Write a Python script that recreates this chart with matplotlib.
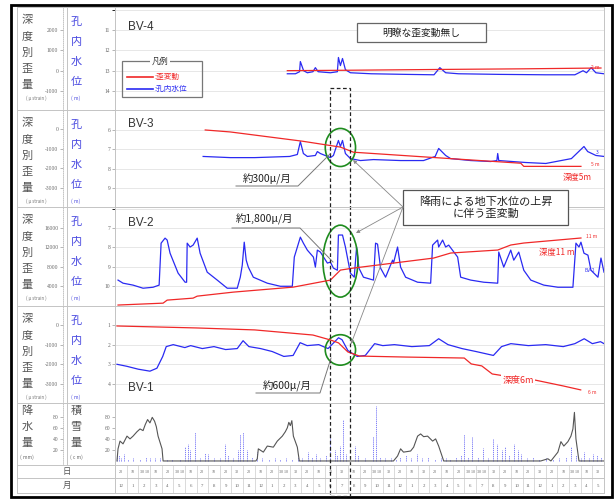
import numpy as np
from matplotlib import pyplot as plt
from matplotlib.patches import Ellipse, Rectangle

plt.rcParams['font.family'] = ['Noto Sans CJK JP', 'DejaVu Sans']
plt.rcParams['axes.unicode_minus'] = False

# time axis: months counted from the 1st of the first December
MONTH_LABELS = ['12', '1', '2', '3', '4', '5', '6', '7', '8', '9', '10', '11',
                '12', '1', '2', '3', '4', '5', '6', '7', '8', '9', '10', '11',
                '12', '1', '2', '3', '4', '5', '6', '7', '8', '9', '10', '11',
                '12', '1', '2', '3', '4', '5']
DAY_LABELS = ['20', '10', '30 10', '10', '20', '30 10', '10', '20', '10', '20', '30', '20',
              '10', '20', '30 10', '30', '20', '10', '20', '30', '10', '20', '30 10', '30',
              '20', '10', '30', '20', '10', '20', '30 10', '30 10', '30', '20', '10', '20',
              '30', '20', '10', '30 10', '10', '30']

# BV-4 (water level m / strain micro-strain)
T_BV4_WL = [14.80, 15.5, 15.85, 15.92, 16.2, 16.52, 17.0, 17.21, 17.45, 18.5,
            19.1, 19.19, 19.36, 19.54, 19.79, 20.22, 22.0, 25.0, 27.4, 27.9,
            28.4, 29.5, 33.0, 37.0, 39.5, 40.2, 40.5, 40.9, 41.3, 42.0]
WL_BV4 = [13.15, 13.15, 13.05, 12.55, 13.0, 13.1, 13.05, 12.85, 13.05, 13.1,
          13.05, 12.35, 12.75, 12.4, 12.95, 13.1, 13.15, 13.18, 13.2, 12.85,
          13.1, 13.15, 13.18, 13.2, 13.2, 13.0, 13.1, 12.85, 13.1, 13.15]
T_BV4_ST = [14.80, 20.0, 28.0, 35.0, 41.74]
ST_BV4 = [0, 20, 60, 90, 130]

# BV-3
T_BV3_WL = [7.57, 9.90, 12.0, 15.0, 15.66, 15.92, 16.18, 16.52, 17.21, 17.38,
            17.64, 18.50, 18.76, 19.19, 19.36, 19.54, 19.79, 20.22, 21.08, 22.20,
            24.53, 26.5, 27.5, 27.8, 28.4, 28.83, 30.55, 32.27, 32.8, 32.87,
            32.96, 35.28, 37.0, 39.2, 40.28, 40.6, 41.31, 42.0]
WL_BV3 = [7.38, 7.44, 7.44, 7.38, 7.28, 6.62, 7.23, 7.38, 7.33, 7.13,
          7.23, 7.44, 7.33, 6.56, 6.87, 6.56, 7.23, 7.49, 7.59, 7.54,
          7.59, 7.59, 7.38, 6.97, 7.33, 7.49, 7.59, 7.64, 7.59, 7.23,
          7.59, 7.69, 7.74, 7.49, 6.87, 7.13, 7.33, 7.38]
T_BV3_ST = [7.75, 9.90, 16.09, 19.36, 20.48, 27.11, 34.85, 35.11, 40.02]
ST_BV3 = [-50, -150, -620, -920, -1180, -1440, -1740, -1900, -1900]

# BV-2
T_BV2_WL = [0.26, 0.69, 1.55, 2.41, 3.27, 3.79, 3.96, 4.30, 4.48, 4.73,
            5.42, 6.02, 6.15, 6.20, 6.45, 6.71, 7.06, 7.31, 7.92, 8.78,
            9.64, 10.50, 10.76, 10.93, 11.10, 11.27, 11.45, 11.88, 13.08, 14.20,
            15.23, 15.40, 15.92, 16.18, 16.52, 17.04, 17.21, 17.38, 17.64, 18.24,
            18.50, 18.76, 19.10, 19.19, 19.54, 19.79, 20.22, 20.55, 20.75, 20.95,
            21.34, 22.20, 22.38, 22.55, 22.81, 23.24, 23.84, 23.92, 24.27, 24.53,
            24.96, 25.99, 27.11, 27.28, 27.71, 27.80, 28.14, 28.40, 28.66, 29.43,
            29.69, 30.55, 31.67, 32.87, 32.96, 33.39, 33.99, 34.25, 34.68, 35.11,
            35.71, 36.83, 38.04, 39.33, 39.59, 39.85, 40.02, 40.28, 40.62, 40.88,
            41.48, 41.74, 42.0]
WL_BV2 = [9.69, 9.85, 9.95, 10.11, 10.06, 9.95, 7.78, 7.52, 7.62, 8.30,
          9.33, 9.80, 9.80, 7.78, 7.98, 7.88, 7.52, 8.30, 9.28, 9.69,
          10.11, 10.11, 9.54, 8.92, 7.73, 8.66, 9.02, 9.54, 9.85, 10.01,
          10.01, 8.50, 7.47, 7.78, 8.14, 8.50, 9.02, 8.14, 8.24, 8.81,
          8.76, 9.07, 9.18, 7.36, 7.36, 7.98, 9.33, 9.54, 7.98, 9.07,
          9.54, 9.69, 7.78, 7.83, 9.07, 9.54, 8.66, 8.81, 7.98, 9.02,
          9.54, 9.80, 9.85, 7.88, 7.62, 7.98, 7.62, 7.98, 7.88, 8.50,
          9.54, 9.69, 9.80, 9.85, 8.24, 9.02, 8.14, 8.66, 8.24, 9.18,
          9.69, 9.95, 10.06, 10.06, 7.78, 7.98, 7.73, 8.30, 8.40, 9.18,
          9.54, 8.55, 9.28]
T_BV2_ST = [0.26, 4.13, 4.48, 6.71, 7.06, 10.15, 15.32, 18.50, 19.36, 20.48,
            27.37, 28.83, 32.87, 33.99, 35.11, 40.02]
ST_BV2 = [60, 450, 1080, 1490, 1900, 2730, 3770, 5220, 7290, 7710,
          9780, 10820, 11440, 12480, 12890, 13930]

# BV-1
T_BV1_WL = [0.17, 1.0, 2.0, 3.0, 3.6, 4.1, 4.4, 5.0, 6.0, 6.5,
            7.5, 8.5, 9.5, 10.5, 11.0, 11.5, 12.5, 13.5, 14.5, 15.3,
            15.9, 16.5, 17.5, 18.3, 19.2, 19.5, 20.0, 20.8, 21.5, 22.3,
            23.0, 24.0, 25.5, 27.0, 27.8, 28.6, 29.8, 31.0, 32.5, 33.2,
            34.0, 35.5, 37.0, 38.5, 39.5, 40.3, 41.0, 41.7, 42.0]
WL_BV1 = [3.0, 3.1, 3.25, 3.35, 3.2, 2.6, 2.1, 2.0, 2.15, 2.05,
          2.2, 2.1, 2.25, 2.2, 1.8, 2.1, 2.2, 2.35, 2.6, 2.55,
          1.9, 2.05, 2.0, 2.2, 1.65, 1.75, 2.3, 2.6, 2.55, 1.95,
          2.05, 2.0, 2.1, 2.05, 1.7, 2.0, 2.2, 2.35, 2.55, 2.1,
          1.95, 2.05, 2.0, 2.1, 1.95, 1.7, 1.95, 1.85, 1.95]
T_BV1_ST = [0.17, 7.0, 12.0, 17.0, 18.5, 19.2, 20.0, 21.0, 25.0, 30.0,
            30.6, 31.5, 32.4, 34.0, 36.0, 38.5, 40.0]
ST_BV1 = [-50, -150, -250, -510, -760, -910, -1370, -1580, -1630, -1680,
          -1980, -2080, -2490, -2640, -2790, -3100, -3300]

# precipitation (mm) and snow depth (cm)
T_RAIN = [0.17, 0.35, 0.5, 0.77, 1.1, 1.55, 2.15, 2.67, 3.0, 3.44,
          3.87, 4.5, 4.9, 5.6, 6.0, 6.3, 6.45, 6.9, 7.3, 7.75,
          8.0, 8.5, 9.0, 9.47, 9.7, 10.15, 10.6, 10.76, 11.0, 11.3,
          11.8, 12.2, 12.65, 13.2, 13.7, 14.2, 14.7, 15.2, 15.7, 16.1,
          16.6, 16.95, 17.3, 17.65, 18.1, 18.5, 18.9, 19.1, 19.36, 19.54,
          19.8, 20.65, 20.9, 21.5, 22.2, 22.4, 22.8, 23.2, 23.7, 24.1,
          24.5, 24.96, 25.4, 25.9, 26.4, 26.9, 27.5, 28.0, 28.4, 28.8,
          29.3, 29.7, 29.95, 30.3, 30.7, 31.2, 31.6, 32.0, 32.45, 32.8,
          33.2, 33.5, 33.8, 34.25, 34.6, 34.85, 35.4, 35.9, 36.4, 37.0,
          37.6, 38.1, 38.7, 39.16, 39.6, 40.0, 40.3, 40.7, 41.05, 41.4, 41.7]
RAIN_MM = [15, 10, 6, 12, 4, 5, 4, 8, 5, 6,
           5, 3, 4, 3, 25, 31, 20, 52, 5, 14,
           12, 5, 6, 30, 10, 6, 20, 48, 52, 20,
           8, 16, 5, 4, 6, 3, 5, 4, 8, 6,
           16, 8, 13, 6, 10, 46, 20, 10, 28, 75,
           12, 28, 10, 5, 46, 100, 8, 5, 6, 4,
           8, 10, 6, 12, 5, 7, 4, 6, 5, 4,
           8, 10, 48, 7, 44, 8, 24, 6, 40, 30,
           19, 25, 10, 31, 19, 12, 5, 8, 4, 6,
           4, 5, 8, 25, 10, 5, 16, 6, 13, 10, 8]
T_SNOW = [0.17, 0.26, 0.43, 0.69, 1.03, 1.29, 1.55, 1.89, 2.15, 2.41,
          2.6, 2.8, 3.0, 3.2, 3.4, 3.55, 3.70, 4.04, 4.13,
          12.1, 12.22, 12.31, 12.74, 13.08, 13.6, 13.94, 14.37, 14.63, 14.8,
          14.93, 15.06, 15.19, 15.32, 15.66, 15.83,
          23.8, 23.92, 24.27, 24.53, 24.78, 25.39, 25.65, 25.99, 26.25, 26.51,
          26.85, 27.28, 27.54, 27.80, 28.23,
          36.57, 37.18, 37.44, 38.04, 38.30, 38.55, 38.90, 39.16, 39.33, 39.46,
          39.59, 39.85, 42.0]
SNOW_CM = [0, 22, 36, 31, 45, 40, 45, 53, 58, 55,
           66, 75, 69, 79, 72, 62, 45, 22, 0,
           0, 4, 22, 16, 27, 25, 36, 45, 53, 60,
           70, 64, 73, 45, 25, 0,
           0, 0, 9, 22, 16, 18, 25, 45, 49, 44,
           45, 36, 40, 27, 0,
           0, 4, 0, 16, 35, 27, 35, 45, 58, 88,
           40, 0, 0]

RED = '#f02828'
BLUE = '#2a2af2'
GREEN = '#1e8c1e'
TICK_FONT = 'Liberation Serif'

W, H = 615, 499
X0, X1 = 115, 604
ROWS = [7, 110, 207, 306, 403, 465, 478, 493]

fig = plt.figure(figsize=(W / 100, H / 100), dpi=100)


def box(x0, y0, x1, y1):
    return fig.add_axes([x0 / W, 1 - y1 / H, (x1 - x0) / W, (y1 - y0) / H])


def tidy(ax, spine):
    for s in ('top', 'right', 'bottom'):
        ax.spines[s].set_visible(False)
    ax.spines['left'].set_visible(True)
    ax.spines['left'].set(color='#bbbbbb', lw=0.6, ls=(0, (1, 1.5)))
    ax.yaxis.set_ticks_position('left')
    ax.tick_params(axis='y', length=2, width=0.5, color='#999999',
                   labelsize=4, labelcolor='#666666', pad=1.5)
    ax.set_xticks([])
    if spine is not None:
        ax.spines['left'].set_position(('axes', spine))
    for lab in ax.get_yticklabels():
        lab.set_family(TICK_FONT)


def panel(y0, y1, wl_lim, wl_ticks, st_lim, st_ticks):
    ax = box(X0, y0, X1, y1)
    ax.set_xlim(0, 42)
    ax.set_ylim(wl_lim)
    ax.set_yticks(wl_ticks)
    ax.grid(axis='y', color='#e3e3e3', lw=0.6)
    ax.patch.set_visible(False)
    tidy(ax, None)
    st = ax.twinx()
    st.set_ylim(st_lim)
    st.set_yticks(st_ticks)
    tidy(st, (63 - X0) / (X1 - X0))
    return ax, st


# BV-4
ax4, st4 = panel(ROWS[0], ROWS[1], (14.93, 9.87), [11, 12, 13, 14],
                 (-1935, 3131), [-1000, 0, 1000, 2000])
ax4.set_yticks([10], minor=True)
ax4.yaxis.grid(True, which='minor', color='#e3e3e3', lw=0.6)
ax4.plot(T_BV4_WL, WL_BV4, color=BLUE, lw=0.9)
st4.plot(T_BV4_ST, ST_BV4, color=RED, lw=0.9)

# BV-3
ax3, st3 = panel(ROWS[1], ROWS[2], (9.97, 5.03), [6, 7, 8, 9],
                 (-3966, 966), [-3000, -2000, -1000, 0])
ax3.set_yticks([5], minor=True)
ax3.yaxis.grid(True, which='minor', color='#e3e3e3', lw=0.6)
ax3.plot(T_BV3_WL, WL_BV3, color=BLUE, lw=0.9)
st3.plot(T_BV3_ST, ST_BV3, color=RED, lw=0.9)
ax3.add_patch(Ellipse((19.36, 6.92), 2.6, 1.95, fill=False, ec=GREEN, lw=1.2, zorder=5))

# BV-2
ax2, st2 = panel(ROWS[2], ROWS[3], (11.03, 5.91), [7, 8, 9, 10],
                 (-139, 20345), [4000, 8000, 12000, 16000])
ax2.set_yticks([6], minor=True)
ax2.yaxis.grid(True, which='minor', color='#e3e3e3', lw=0.6)
ax2.plot(T_BV2_WL, WL_BV2, color=BLUE, lw=0.9)
st2.plot(T_BV2_ST, ST_BV2, color=RED, lw=0.9)
ax2.add_patch(Ellipse((19.36, 8.71), 3.0, 3.72, fill=False, ec=GREEN, lw=1.2, zorder=5))

# BV-1
ax1, st1 = panel(ROWS[3], ROWS[4], (4.97, 0.034), [1, 2, 3, 4],
                 (-3966, 966), [-3000, -2000, -1000, 0])
ax1.plot(T_BV1_WL, WL_BV1, color=BLUE, lw=0.9)
st1.plot(T_BV1_ST, ST_BV1, color=RED, lw=0.9)
ax1.add_patch(Ellipse((19.36, 2.27), 2.6, 1.55, fill=False, ec=GREEN, lw=1.2, zorder=5))

# precipitation / snow depth
axp = box(X0, ROWS[4], X1, ROWS[5])
axp.set_xlim(0, 42)
axp.set_ylim(-7.3, 105)
axp.set_yticks([20, 40, 60, 80])
axp.patch.set_visible(False)
tidy(axp, None)
axp.vlines(T_RAIN, 0, RAIN_MM, colors='#6c6cf5', lw=0.6, linestyles=(0, (1.5, 1)))
sn = axp.twinx()
sn.set_ylim(-7.3, 105)
sn.set_yticks([20, 40, 60, 80])
tidy(sn, (63 - X0) / (X1 - X0))
axp.plot(T_SNOW, SNOW_CM, color='#555555', lw=0.8)

# day / month rows
axd = box(X0, ROWS[5], X1, ROWS[7])
axd.set_xlim(0, 42)
axd.set_ylim(2, 0)
axd.axis('off')
axd.vlines(np.arange(43), 0, 2, colors='#cccccc', lw=0.5)
for i, (m, d) in enumerate(zip(MONTH_LABELS, DAY_LABELS)):
    axd.text(i + 0.5, 1.5, m, ha='center', va='center', fontsize=3.5,
             color='#666666', family=TICK_FONT)
    axd.text(i + 0.5, 0.5, d, ha='center', va='center', fontsize=3,
             color='#666666', family=TICK_FONT)

# table frame, column titles and notes
ov = fig.add_axes([0, 0, 1, 1])
ov.set_xlim(0, W)
ov.set_ylim(H, 0)
ov.axis('off')

ov.add_patch(Rectangle((11, 5), 601, 492, fill=False, ec='black', lw=2))
for y in ROWS:
    ov.plot([17, X1], [y, y], color='#c4c4c4', lw=0.7)
ov.plot([17, 17], [ROWS[0], ROWS[-1]], color='#c4c4c4', lw=0.7)
ov.plot([X1, X1], [ROWS[0], ROWS[-1]], color='#c4c4c4', lw=0.7)
ov.plot([67, 67], [ROWS[0], ROWS[5]], color='#c4c4c4', lw=0.7)
ov.plot([X0, X0], [ROWS[0], ROWS[-1]], color='#c4c4c4', lw=0.7)

for y0 in ROWS[:4]:
    for k, ch in enumerate('深度別歪量'):
        ov.text(27, y0 + 13 + k * 16.3, ch, ha='center', va='center',
                fontsize=8, color='#555555')
    ov.text(36, y0 + 91, '( μ strain )', ha='center', va='center',
            fontsize=3.2, color='#777777')
    for k, ch in enumerate('孔内水位'):
        ov.text(76, y0 + 15 + k * 20, ch, ha='center', va='center',
                fontsize=8, color='#4848e0')
    ov.text(76, y0 + 91, '( m)', ha='center', va='center', fontsize=3.5,
            color='#4848e0')

for k, ch in enumerate('降水量'):
    ov.text(27, 411 + k * 16, ch, ha='center', va='center', fontsize=8, color='#555555')
for k, ch in enumerate('積雪量'):
    ov.text(76, 411 + k * 16, ch, ha='center', va='center', fontsize=8, color='#555555')
ov.text(27, 457, '( mm)', ha='center', va='center', fontsize=3.5, color='#666666')
ov.text(76, 457, '( c m)', ha='center', va='center', fontsize=3.5, color='#666666')
ov.text(67, 471.5, '日', ha='center', va='center', fontsize=6, color='#555555')
ov.text(67, 485.5, '月', ha='center', va='center', fontsize=6, color='#555555')

for y, name in [(27, 'BV-4'), (124, 'BV-3'), (223, 'BV-2'), (388, 'BV-1')]:
    ov.text(128, y, name, ha='left', va='center', fontsize=8.5,
            color='#333333', family='Liberation Sans')

# legend
ov.add_patch(Rectangle((122, 61), 80, 36, fill=False, ec='#777777', lw=0.9))
ov.text(160, 61, '凡例', ha='center', va='center', fontsize=6, color='#333333',
        bbox=dict(fc='white', ec='none', pad=1.5))
ov.plot([127, 153], [77, 77], color=RED, lw=1.2)
ov.plot([127, 153], [89, 89], color=BLUE, lw=1.2)
ov.text(154, 77, ':歪変動', ha='left', va='center', fontsize=5.5, color=RED)
ov.text(154, 89, ':孔内水位', ha='left', va='center', fontsize=5.5, color=BLUE)

# note boxes
ov.add_patch(Rectangle((357, 23), 129, 19, fc='white', ec='#666666', lw=0.9, zorder=3))
ov.text(421, 32.5, '明瞭な歪変動無し', ha='center', va='center', fontsize=7,
        color='#222222', zorder=4)

ov.add_patch(Rectangle((403, 190), 165, 35, fc='white', ec='#555555', lw=0.9, zorder=3))
ov.text(486, 207.5, '降雨による地下水位の上昇\nに伴う歪変動', ha='center', va='center',
        fontsize=8, color='#222222', linespacing=1.15, zorder=4)
for tip in [(353, 160), (356, 233), (351, 344)]:
    ov.annotate('', xy=tip, xytext=(403, 207),
                arrowprops=dict(arrowstyle='-|>', color='#888888', lw=0.6,
                                mutation_scale=5, shrinkA=0, shrinkB=0))

# rate call-outs
ov.text(267, 179, '約300μ/月', ha='center', va='center', fontsize=7.5, color='#222222')
ov.plot([236, 298, 330], [186, 186, 154], color='#777777', lw=0.7)
ov.text(265, 219, '約1,800μ/月', ha='center', va='center', fontsize=7.5, color='#222222')
ov.plot([232, 300, 333], [228, 228, 262], color='#777777', lw=0.7)
ov.text(287, 386, '約600μ/月', ha='center', va='center', fontsize=7.5, color='#222222')
ov.plot([256, 320, 331], [393, 393, 358], color='#777777', lw=0.7)

# depth tags
ov.text(595, 67, '2 m', ha='center', va='center', fontsize=3.5, color=RED)
ov.text(595, 165, '5 m', ha='center', va='center', fontsize=3.5, color=RED)
ov.text(597, 152, '3', ha='center', va='center', fontsize=3.5, color=BLUE)
ov.text(577, 177, '深度5m', ha='center', va='center', fontsize=6, color=RED)
ov.text(592, 236, '11 m', ha='center', va='center', fontsize=3.5, color=RED)
ov.text(557, 252, '深度11 m', ha='center', va='center', fontsize=6, color=RED)
ov.text(590, 270, 'BV-2', ha='center', va='center', fontsize=3.5, color=BLUE)
ov.text(518, 380, '深度6m', ha='center', va='center', fontsize=6.5, color=RED,
        bbox=dict(fc='white', ec='none', pad=1))
ov.text(592, 393, '6 m', ha='center', va='center', fontsize=3.5, color=RED)

# period of interest
ov.add_patch(Rectangle((330, 88), 20, 408, fill=False, ec='#222222', lw=0.9,
                       ls=(0, (3, 2))))

fig.savefig('out.png', dpi=100)
